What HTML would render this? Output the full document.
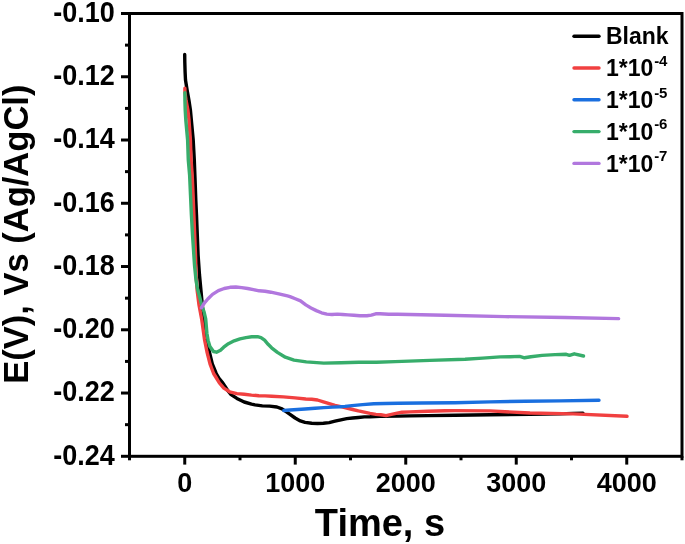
<!DOCTYPE html>
<html><head><meta charset="utf-8"><style>
html,body{margin:0;padding:0;background:#fff;}
svg{display:block;}
</style></head><body>
<svg width="685" height="544" viewBox="0 0 685 544">
<rect x="129.5" y="13.5" width="552.5" height="442.8" fill="none" stroke="#000" stroke-width="3" stroke-linejoin="miter"/>
<line x1="121.0" y1="13.50" x2="129.5" y2="13.50" stroke="#000" stroke-width="3"/>
<line x1="125.0" y1="45.13" x2="129.5" y2="45.13" stroke="#000" stroke-width="3"/>
<line x1="121.0" y1="76.76" x2="129.5" y2="76.76" stroke="#000" stroke-width="3"/>
<line x1="125.0" y1="108.39" x2="129.5" y2="108.39" stroke="#000" stroke-width="3"/>
<line x1="121.0" y1="140.01" x2="129.5" y2="140.01" stroke="#000" stroke-width="3"/>
<line x1="125.0" y1="171.64" x2="129.5" y2="171.64" stroke="#000" stroke-width="3"/>
<line x1="121.0" y1="203.27" x2="129.5" y2="203.27" stroke="#000" stroke-width="3"/>
<line x1="125.0" y1="234.90" x2="129.5" y2="234.90" stroke="#000" stroke-width="3"/>
<line x1="121.0" y1="266.53" x2="129.5" y2="266.53" stroke="#000" stroke-width="3"/>
<line x1="125.0" y1="298.16" x2="129.5" y2="298.16" stroke="#000" stroke-width="3"/>
<line x1="121.0" y1="329.79" x2="129.5" y2="329.79" stroke="#000" stroke-width="3"/>
<line x1="125.0" y1="361.41" x2="129.5" y2="361.41" stroke="#000" stroke-width="3"/>
<line x1="121.0" y1="393.04" x2="129.5" y2="393.04" stroke="#000" stroke-width="3"/>
<line x1="125.0" y1="424.67" x2="129.5" y2="424.67" stroke="#000" stroke-width="3"/>
<line x1="121.0" y1="456.30" x2="129.5" y2="456.30" stroke="#000" stroke-width="3"/>
<line x1="129.50" y1="456.3" x2="129.50" y2="460.3" stroke="#000" stroke-width="3"/>
<line x1="184.75" y1="456.3" x2="184.75" y2="464.6" stroke="#000" stroke-width="3"/>
<line x1="240.00" y1="456.3" x2="240.00" y2="460.3" stroke="#000" stroke-width="3"/>
<line x1="295.25" y1="456.3" x2="295.25" y2="464.6" stroke="#000" stroke-width="3"/>
<line x1="350.50" y1="456.3" x2="350.50" y2="460.3" stroke="#000" stroke-width="3"/>
<line x1="405.75" y1="456.3" x2="405.75" y2="464.6" stroke="#000" stroke-width="3"/>
<line x1="461.00" y1="456.3" x2="461.00" y2="460.3" stroke="#000" stroke-width="3"/>
<line x1="516.25" y1="456.3" x2="516.25" y2="464.6" stroke="#000" stroke-width="3"/>
<line x1="571.50" y1="456.3" x2="571.50" y2="460.3" stroke="#000" stroke-width="3"/>
<line x1="626.75" y1="456.3" x2="626.75" y2="464.6" stroke="#000" stroke-width="3"/>
<line x1="682.00" y1="456.3" x2="682.00" y2="460.3" stroke="#000" stroke-width="3"/>
<g font-family="'Liberation Sans', Arial, sans-serif" font-weight="bold" font-size="27"><text transform="translate(114.7,21.90) scale(1,1.085)" text-anchor="end">-0.10</text><text transform="translate(114.7,85.16) scale(1,1.085)" text-anchor="end">-0.12</text><text transform="translate(114.7,148.41) scale(1,1.085)" text-anchor="end">-0.14</text><text transform="translate(114.7,211.67) scale(1,1.085)" text-anchor="end">-0.16</text><text transform="translate(114.7,274.93) scale(1,1.085)" text-anchor="end">-0.18</text><text transform="translate(114.7,338.19) scale(1,1.085)" text-anchor="end">-0.20</text><text transform="translate(114.7,401.44) scale(1,1.085)" text-anchor="end">-0.22</text><text transform="translate(114.7,464.70) scale(1,1.085)" text-anchor="end">-0.24</text></g>
<g font-family="'Liberation Sans', Arial, sans-serif" font-weight="bold" font-size="27"><text x="184.75" y="492" text-anchor="middle">0</text><text x="295.25" y="492" text-anchor="middle">1000</text><text x="405.75" y="492" text-anchor="middle">2000</text><text x="516.25" y="492" text-anchor="middle">3000</text><text x="626.75" y="492" text-anchor="middle">4000</text></g>
<text x="380" y="535.6" text-anchor="middle" font-family="'Liberation Sans', Arial, sans-serif" font-weight="bold" font-size="38">Time, s</text>
<text transform="translate(27.6,234.2) rotate(-90) scale(0.987,1.02)" text-anchor="middle" font-family="'Liberation Sans', Arial, sans-serif" font-weight="bold" font-size="35">E(V), Vs (Ag/AgCl)</text>
<polyline points="184.7,54.4 184.8,62.0 185.1,72.0 185.5,80.0 187.1,90.0 188.9,100.0 190.4,110.0 191.8,125.0 193.2,140.0 194.3,160.0 195.0,178.0 195.8,200.0 196.5,215.0 197.3,235.0 198.1,255.0 199.5,275.0 200.9,290.0 202.3,305.0 203.6,320.0 205.2,333.0 207.3,344.0 209.4,352.0 212.3,363.9 216.2,373.5 219.0,378.3 222.3,382.3 224.6,385.6 228.0,391.0 231.1,394.6 236.9,398.4 244.2,402.0 251.5,404.2 255.0,404.9 262.3,405.9 269.6,406.1 276.9,407.0 282.0,408.9 285.7,411.4 290.0,414.3 295.1,418.0 300.3,420.9 305.0,422.4 311.7,423.3 317.5,423.5 323.4,423.3 329.2,422.6 335.0,421.2 340.9,419.8 346.7,418.6 352.6,418.0 358.4,417.5 364.3,416.9 370.0,416.8 380.0,416.3 398.4,416.1 410.0,415.9 427.6,415.6 455.0,415.3 490.0,414.7 530.0,414.3 545.0,414.0 560.0,413.9 573.0,413.4 583.0,413.2" fill="none" stroke="#000000" stroke-width="3.4" stroke-linejoin="round" stroke-linecap="round"/>
<polyline points="184.9,88.2 184.9,92.0 186.0,100.0 187.9,110.0 189.0,120.0 190.4,140.0 191.1,160.0 192.2,175.0 193.1,195.0 193.9,215.0 194.7,235.0 195.5,255.0 196.1,275.0 197.1,290.0 199.0,305.0 200.5,313.0 201.8,320.0 203.2,330.0 204.6,340.0 207.0,352.0 210.0,363.9 213.6,373.5 216.1,377.5 219.4,383.0 223.8,388.1 229.6,391.8 236.9,393.6 244.2,394.3 251.5,395.1 258.8,395.7 265.0,395.9 271.7,396.2 283.4,396.9 295.0,397.9 305.8,399.0 311.7,399.2 317.5,400.0 323.4,401.9 329.2,403.7 335.0,405.4 340.9,406.6 346.7,408.0 352.6,409.5 358.4,410.9 364.3,412.1 370.0,413.4 375.9,414.4 380.8,414.8 386.1,415.6 392.5,414.2 401.9,412.2 410.0,411.9 427.6,411.3 445.0,410.7 455.0,410.6 490.0,410.9 530.0,413.0 573.2,413.9 627.0,416.3" fill="none" stroke="#F14040" stroke-width="3.4" stroke-linejoin="round" stroke-linecap="round"/>
<polyline points="283.8,410.5 290.0,410.0 297.5,409.5 305.0,409.0 315.0,408.3 323.8,407.6 332.6,407.1 340.0,406.8 345.0,406.4 352.0,405.6 362.5,404.6 373.8,403.8 385.0,403.5 398.4,403.3 421.7,403.0 455.0,402.7 490.0,401.9 525.0,401.2 560.0,400.9 599.0,400.3" fill="none" stroke="#1A6FDF" stroke-width="3.4" stroke-linejoin="round" stroke-linecap="round"/>
<polyline points="184.9,92.8 184.9,100.0 185.2,110.0 185.8,120.0 187.6,140.0 188.3,160.0 189.6,175.0 190.5,195.0 191.4,215.0 192.5,235.0 193.5,250.0 194.5,265.0 196.0,280.0 197.5,289.0 199.2,295.0 201.6,304.6 204.0,311.7 205.7,318.9 206.3,326.1 206.9,333.2 208.1,340.4 209.9,346.4 213.5,351.5 216.5,352.2 220.5,350.2 223.7,347.2 228.4,343.7 234.2,340.8 240.0,338.8 245.9,337.6 251.7,336.7 257.6,336.7 261.0,337.6 264.6,340.2 268.1,344.3 271.6,347.8 277.4,352.4 283.3,356.0 285.3,357.2 294.0,360.1 306.3,361.9 323.8,363.1 341.3,362.8 358.8,362.2 376.4,362.2 395.0,361.6 430.0,360.4 465.1,359.2 482.6,358.1 500.1,356.9 510.0,356.7 519.6,356.4 524.5,357.8 530.9,356.7 542.1,355.4 555.0,354.6 566.2,354.3 569.5,355.4 574.3,353.8 583.5,356.0" fill="none" stroke="#37AD6B" stroke-width="3.4" stroke-linejoin="round" stroke-linecap="round"/>
<polyline points="201.4,307.8 204.3,303.1 207.8,299.0 212.5,294.4 218.4,290.6 224.2,288.5 230.0,287.3 235.9,287.0 241.7,287.6 247.6,288.5 253.4,289.7 259.2,290.8 265.1,291.2 270.9,292.2 278.8,293.8 287.5,295.9 290.0,296.6 295.3,298.8 300.5,300.9 305.8,304.9 311.0,308.0 316.3,310.6 321.5,312.8 326.8,314.1 332.0,314.5 337.3,314.1 342.6,314.5 348.0,314.9 353.8,315.3 359.9,315.8 366.9,315.8 371.3,315.1 375.7,313.8 380.0,313.8 388.8,314.2 397.6,314.3 445.0,315.2 505.0,316.6 565.0,317.5 618.6,318.6" fill="none" stroke="#B177DE" stroke-width="3.4" stroke-linejoin="round" stroke-linecap="round"/>
<line x1="574" y1="36.20" x2="599" y2="36.20" stroke="#000000" stroke-width="3.4" stroke-linecap="round"/>
<text x="606" y="44.40" font-family="'Liberation Sans', Arial, sans-serif" font-weight="bold" font-size="23">Blank</text>
<line x1="574" y1="68.00" x2="599" y2="68.00" stroke="#F14040" stroke-width="3.4" stroke-linecap="round"/>
<text x="606" y="76.20" font-family="'Liberation Sans', Arial, sans-serif" font-weight="bold" font-size="23">1*10<tspan font-size="15" dx="0.8" dy="-10.5">-4</tspan></text>
<line x1="574" y1="99.80" x2="599" y2="99.80" stroke="#1A6FDF" stroke-width="3.4" stroke-linecap="round"/>
<text x="606" y="108.00" font-family="'Liberation Sans', Arial, sans-serif" font-weight="bold" font-size="23">1*10<tspan font-size="15" dx="0.8" dy="-10.5">-5</tspan></text>
<line x1="574" y1="131.60" x2="599" y2="131.60" stroke="#37AD6B" stroke-width="3.4" stroke-linecap="round"/>
<text x="606" y="139.80" font-family="'Liberation Sans', Arial, sans-serif" font-weight="bold" font-size="23">1*10<tspan font-size="15" dx="0.8" dy="-10.5">-6</tspan></text>
<line x1="574" y1="163.40" x2="599" y2="163.40" stroke="#B177DE" stroke-width="3.4" stroke-linecap="round"/>
<text x="606" y="171.60" font-family="'Liberation Sans', Arial, sans-serif" font-weight="bold" font-size="23">1*10<tspan font-size="15" dx="0.8" dy="-10.5">-7</tspan></text>
</svg>
</body></html>
